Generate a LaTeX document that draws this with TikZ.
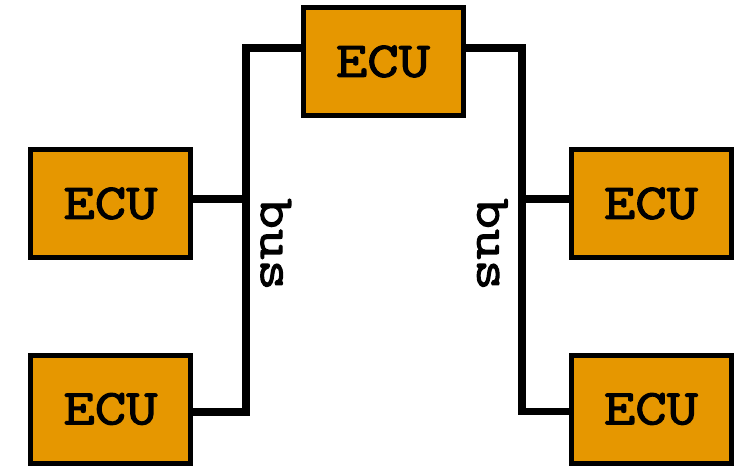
\documentclass[tikz,border=0pt]{standalone}
\usepackage{fontspec}
\newfontfamily\ecufont{Latin Modern Mono}[FakeStretch=1.22, FakeBold=2.4]
\usetikzlibrary{calc}
\definecolor{ecuorange}{RGB}{230,151,0}
\tikzset{
  ecubox/.style={draw=black, fill=ecuorange, line width=5pt, minimum width=160pt, minimum height=108pt, inner sep=0pt, font=\ecufont\fontsize{50}{56}\selectfont},
  busline/.style={draw=black, line width=7.5pt, line join=miter, line cap=butt},
  buslabel/.style={rotate=-90, anchor=base west, inner sep=0pt, font=\ecufont\fontsize{49}{56}\selectfont}
}
\begin{document}
\begin{tikzpicture}[x=1pt,y=-1pt]
\useasboundingbox (0,0) rectangle (752,466);
\node[ecubox] (top) at (383,61.5) {ECU};
\node[ecubox] (lm) at (110.5,203.5) {ECU};
\node[ecubox] (lb) at (110.5,409) {ECU};
\node[ecubox] (rm) at (651,203.5) {ECU};
\node[ecubox] (rb) at (651,409) {ECU};
\coordinate (ltop) at (246,48);
\coordinate (lbot) at (246,412);
\coordinate (rtop) at (522,48);
\coordinate (rbot) at (522,411.5);
\coordinate (lmc) at ($(lm.east)+(0,-4.5)$);
\coordinate (rmc) at ($(rm.west)+(0,-4.5)$);
\draw[busline] (top.west |- ltop) -- (ltop) -- (lbot) -- (lbot -| lb.east);
\draw[busline] (top.east |- rtop) -- (rtop) -- (rbot) -- (rbot -| rb.west);
\draw[busline] (lmc) -- (lmc -| ltop);
\draw[busline] (rmc) -- (rmc -| rtop);
\node[buslabel] (lbus) at (261,198) {bus};
\node[buslabel] (rbus) at (477.5,198) {bus};
\end{tikzpicture}
\end{document}
